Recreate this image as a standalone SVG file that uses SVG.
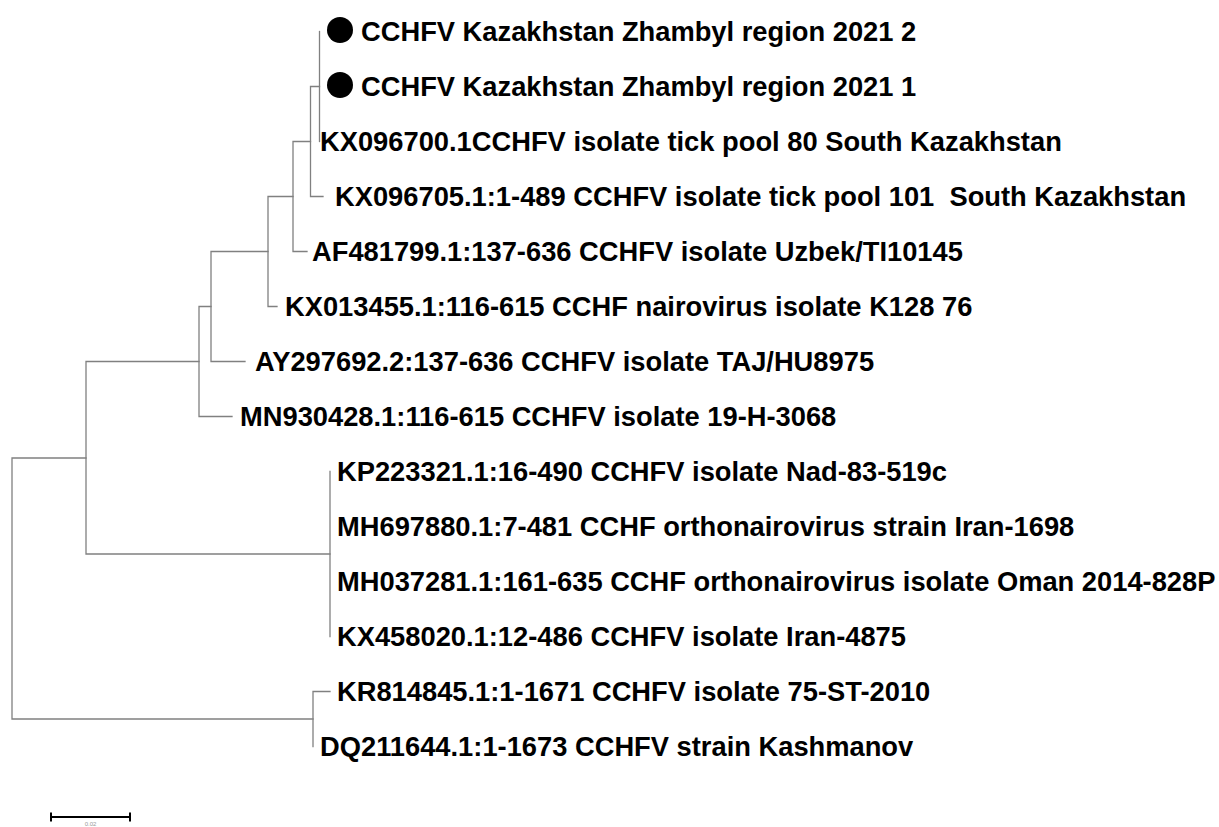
<svg xmlns="http://www.w3.org/2000/svg" width="1219" height="827" viewBox="0 0 1219 827">
<style>
.br{stroke:#808080;stroke-width:1.3;fill:none;stroke-linecap:square}
.lb{font-family:"Liberation Sans",Arial,sans-serif;font-weight:bold;font-size:27.3px;fill:#000;white-space:pre}
.sb{stroke:#000;stroke-width:2;fill:none}
.st{font-family:"Liberation Sans",Arial,sans-serif;font-size:6px;fill:#999}
</style>
<rect width="1219" height="827" fill="#fff"/>
<g id="connectors">
<path class="br" d="M319.5,31.5V141.5"/>
<path class="br" d="M310.5,86.5H319.5M310.5,86.5V196.5M310.5,196.5H323"/>
<path class="br" d="M293,141.5H310.5M293,141.5V251.5M293,251.5H307"/>
<path class="br" d="M268,196.5H293M268,196.5V306.5M268,306.5H277"/>
<path class="br" d="M211,251.5H268M211,251.5V361.5M211,361.5H245"/>
<path class="br" d="M199,306.5H211M199,306.5V416.5M199,416.5H232"/>
<path class="br" d="M330,471.5V636.5"/>
<path class="br" d="M86,361.5H199M86,361.5V554M86,554H330"/>
<path class="br" d="M313,691.5V746.5M313,691.5H330"/>
<path class="br" d="M12,458H86M12,458V719M12,719H313"/>
</g>
<g id="n1"><circle cx="340" cy="30" r="13" fill="#000"/><text class="lb" x="361" y="41.3">CCHFV Kazakhstan Zhambyl region 2021 2</text></g>
<g id="n2"><circle cx="340" cy="85" r="13" fill="#000"/><text class="lb" x="361" y="96.3">CCHFV Kazakhstan Zhambyl region 2021 1</text></g>
<g id="n3"><text class="lb" x="320" y="151.3">KX096700.1CCHFV isolate tick pool 80 South Kazakhstan</text></g>
<g id="n4"><text class="lb" x="335" y="206.3" xml:space="preserve">KX096705.1:1-489 CCHFV isolate tick pool 101  South Kazakhstan</text></g>
<g id="n5"><text class="lb" x="312" y="261.3">AF481799.1:137-636 CCHFV isolate Uzbek/TI10145</text></g>
<g id="n6"><text class="lb" x="285" y="316.3">KX013455.1:116-615 CCHF nairovirus isolate K128 76</text></g>
<g id="n7"><text class="lb" x="255" y="371.3">AY297692.2:137-636 CCHFV isolate TAJ/HU8975</text></g>
<g id="n8"><text class="lb" x="240" y="426.3">MN930428.1:116-615 CCHFV isolate 19-H-3068</text></g>
<g id="n9"><text class="lb" x="337" y="481.3">KP223321.1:16-490 CCHFV isolate Nad-83-519c</text></g>
<g id="n10"><text class="lb" x="337" y="536.3">MH697880.1:7-481 CCHF orthonairovirus strain Iran-1698</text></g>
<g id="n11"><text class="lb" x="337" y="591.3">MH037281.1:161-635 CCHF orthonairovirus isolate Oman 2014-828P</text></g>
<g id="n12"><text class="lb" x="337" y="646.3">KX458020.1:12-486 CCHFV isolate Iran-4875</text></g>
<g id="n13"><text class="lb" x="337" y="701.3">KR814845.1:1-1671 CCHFV isolate 75-ST-2010</text></g>
<g id="n14"><text class="lb" x="320" y="756.3">DQ211644.1:1-1673 CCHFV strain Kashmanov</text></g>
<g id="scale">
<path class="sb" d="M51,817H130M51,812.5V821.5M130,812.5V821.5"/>
<text class="st" x="90.5" y="826" text-anchor="middle">0.02</text>
</g>
</svg>
